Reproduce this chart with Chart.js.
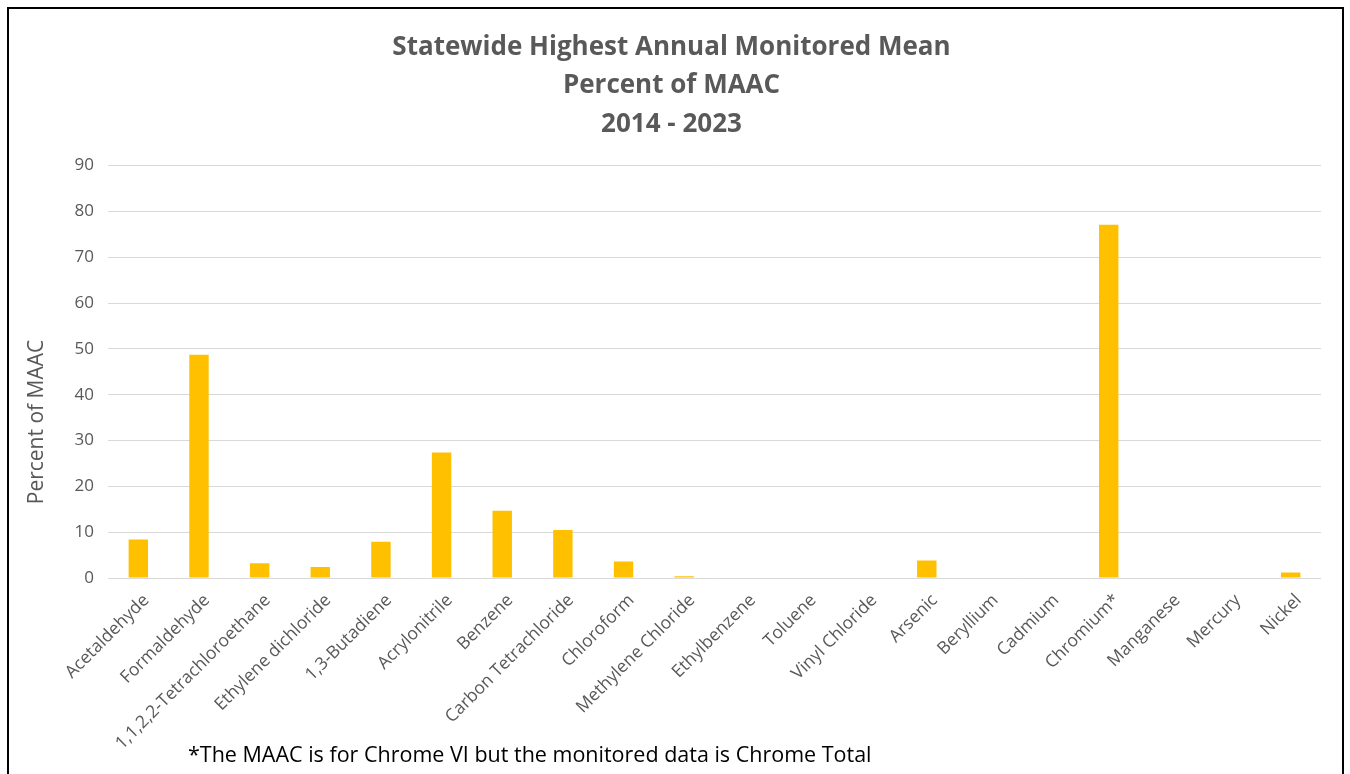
<!DOCTYPE html>
<html>
<head>
<meta charset="utf-8">
<script src="https://cdn.jsdelivr.net/npm/chart.js@4.4.1/dist/chart.umd.min.js"></script>
<style>
  html, body { margin: 0; padding: 0; background: #fff; width: 1350px; height: 774px; overflow: hidden; }
  #wrap { position: absolute; left: 0; top: 0; width: 1350px; height: 774px; }
  #frame { position: absolute; left: 7px; top: 7px; width: 1333px; height: 800px; border: 2px solid #000; pointer-events: none; }
  #note { position: absolute; left: 188px; top: 739px; font-family: "Open Sans", sans-serif; font-size: 21.5px; line-height: 30px; color: #000; white-space: nowrap; }
</style>
</head>
<body>
<div id="wrap"><canvas id="c" width="1350" height="774"></canvas></div>
<div id="frame"></div>
<div id="note">*The MAAC is for Chrome VI but the monitored data is Chrome Total</div>
<script>
const categories = ["Acetaldehyde","Formaldehyde","1,1,2,2-Tetrachloroethane","Ethylene dichloride","1,3-Butadiene","Acrylonitrile","Benzene","Carbon Tetrachloride","Chloroform","Methylene Chloride","Ethylbenzene","Toluene","Vinyl Chloride","Arsenic","Beryllium","Cadmium","Chromium*","Manganese","Mercury","Nickel"];
const percentOfMAAC = [8.4, 48.7, 3.2, 2.4, 7.9, 27.4, 14.7, 10.5, 3.6, 0.4, 0, 0, 0, 3.8, 0, 0, 77.1, 0, 0, 1.2];
const titleLines = ["Statewide Highest Annual Monitored Mean", "Percent of MAAC", "2014 - 2023"];
const yAxisTitle = "Percent of MAAC";
const yMin = 0, yMax = 90, yStep = 10;

const FONT = '"Open Sans", sans-serif';

const yTitlePlugin = {
  id: 'yTitle',
  afterDraw(chart) {
    const ctx = chart.ctx;
    ctx.save();
    ctx.translate(37, 422);
    ctx.rotate(-Math.PI / 2);
    ctx.font = '21px ' + FONT;
    ctx.fillStyle = '#595959';
    ctx.textAlign = 'center';
    ctx.textBaseline = 'middle';
    ctx.fillText(yAxisTitle, 0, 0);
    ctx.restore();
  }
};

new Chart(document.getElementById('c'), {
  type: 'bar',
  data: {
    labels: categories,
    datasets: [{
      data: percentOfMAAC,
      backgroundColor: '#FFC000',
      borderWidth: 0,
      barPercentage: 1,
      categoryPercentage: 0.32
    }]
  },
  plugins: [yTitlePlugin],
  options: {
    responsive: false,
    animation: false,
    layout: { padding: { top: 8, left: 22, right: 29, bottom: 0 } },
    plugins: {
      legend: { display: false },
      tooltip: { enabled: false },
      title: {
        display: true,
        text: titleLines,
        color: '#595959',
        font: { family: FONT, size: 26, weight: 'bold', lineHeight: '38.5px' },
        padding: { top: 20, bottom: 22 }
      }
    },
    scales: {
      x: {
        grid: { display: false, drawTicks: false },
        border: { display: false },
        ticks: {
          color: '#595959',
          font: { family: FONT, size: 17.5 },
          maxRotation: 45, minRotation: 45,
          autoSkip: false,
          padding: 12,
          labelOffset: 8
        },
        afterFit: (s) => { s.height = 196; }
      },
      y: {
        min: yMin, max: yMax,
        ticks: { stepSize: yStep, color: '#595959', font: { family: FONT, size: 17 }, padding: 14 },
        grid: { color: '#d9d9d9', lineWidth: 1, drawTicks: false },
        border: { display: false },
        afterFit: (s) => { s.width = 86; }
      }
    }
  }
});
</script>
</body>
</html>
